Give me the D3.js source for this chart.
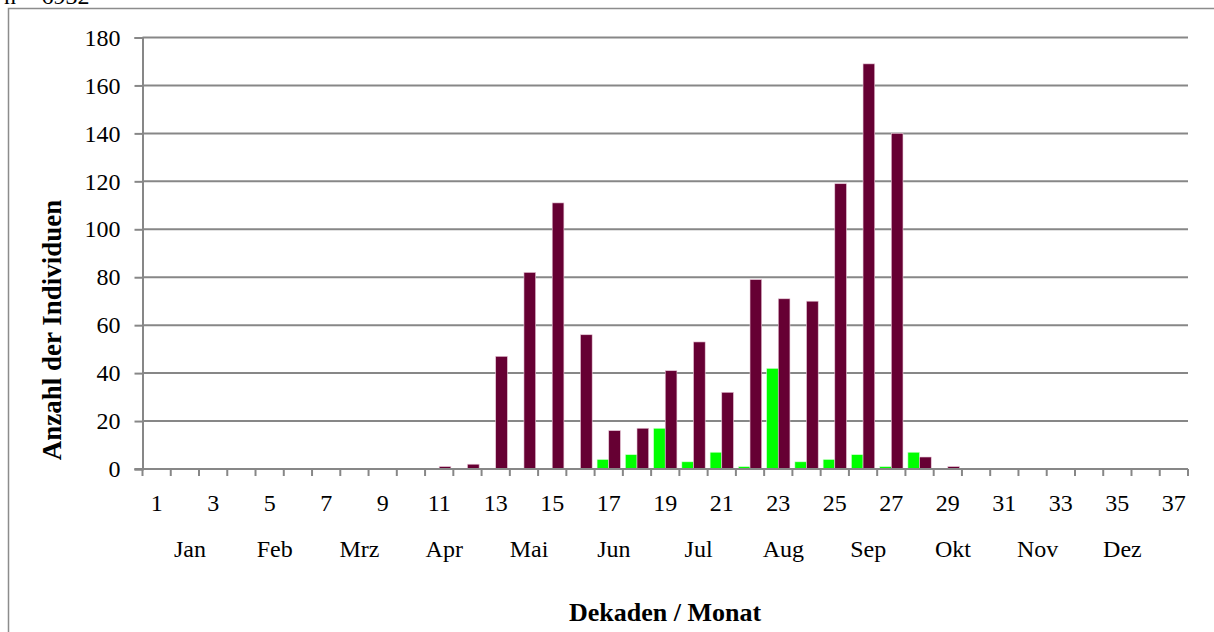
<!DOCTYPE html>
<html>
<head>
<meta charset="utf-8">
<script src="https://cdn.jsdelivr.net/npm/d3@7"></script>
<style>
  html, body { margin: 0; padding: 0; background: #fff; }
  svg { display: block; }
  text { font-family: "Liberation Serif", "Times New Roman", serif; fill: #000; }
</style>
</head>
<body>
<svg id="chart" width="1214" height="632"></svg>
<script>
// ---- Data ----
const decades = d3.range(1, 38);               // 1..37
const tickLabels = d3.range(1, 38, 2);          // 1,3,...,37
const months = ["Jan","Feb","Mrz","Apr","Mai","Jun","Jul","Aug","Sep","Okt","Nov","Dez"];
const seriesGreen = [0,0,0,0,0,0,0,0,0,0, 0,0,0,0,0,0,4,6,17,3, 7,1,42,3,4,6,1,7,0,0, 0,0,0,0,0,0,0];
const seriesMaroon = [0,0,0,0,0,0,0,0,0,0, 1,2,47,82,111,56,16,17,41,53, 32,79,71,70,119,169,140,5,1,0, 0,0,0,0,0,0,0];
const yTicks = [0,20,40,60,80,100,120,140,160,180];
const nLabel = "n = 6932";

// ---- Layout ----
const svg = d3.select("#chart");
const pLeft = 142.5, pRight = 1188, pTop = 37.5, pBottom = 469;
const gridColor = "#878787";

// outer border
svg.append("rect").attr("x", 8.5).attr("y", 8.5).attr("width", 1230).attr("height", 640)
  .attr("fill", "none").attr("stroke", "#8c8c8c").attr("stroke-width", 1.5);

svg.append("text").attr("x", 4).attr("y", 4).attr("font-size", 24).text(nLabel);

const x = d3.scaleBand().domain(decades).range([pLeft, pRight]).paddingInner(0).paddingOuter(0);
const inner = d3.scaleBand().domain(["g","m"]).range([0, x.bandwidth()]).paddingOuter(0.21).paddingInner(0);
const y = d3.scaleLinear().domain([0, 180]).range([pBottom, pTop]);

// gridlines
svg.append("g").selectAll("line").data(yTicks.slice(1)).join("line")
  .attr("x1", pLeft).attr("x2", pRight)
  .attr("y1", d => y(d)).attr("y2", d => y(d))
  .attr("stroke", gridColor).attr("stroke-width", 2);

// bars
const bars = svg.append("g");
decades.forEach((d, i) => {
  const gv = seriesGreen[i], mv = seriesMaroon[i];
  if (gv > 0) bars.append("rect").attr("x", x(d) + inner("g")).attr("width", inner.bandwidth())
    .attr("y", y(gv)).attr("height", y(0) - y(gv)).attr("fill", "#00ff00")
    .attr("stroke", "#d9ffd9").attr("stroke-width", 0.6);
  if (mv > 0) bars.append("rect").attr("x", x(d) + inner("m")).attr("width", inner.bandwidth())
    .attr("y", y(mv)).attr("height", y(0) - y(mv)).attr("fill", "#660033")
    .attr("stroke", "#e8c8d8").attr("stroke-width", 0.6);
});

// y axis
const yAxis = svg.append("g").attr("transform", `translate(${pLeft},0)`)
  .call(d3.axisLeft(y).tickValues(yTicks).tickSize(8).tickPadding(14));
yAxis.select(".domain").attr("stroke", gridColor).attr("stroke-width", 2);
yAxis.selectAll(".tick line").attr("stroke", gridColor).attr("stroke-width", 2);
yAxis.selectAll(".tick text").attr("font-size", 24).attr("font-family", "Liberation Serif");

// x axis baseline + tick marks at category boundaries
const boundaries = decades.map(d => x(d)).concat([x(37) + x.bandwidth()]);
svg.append("line").attr("x1", pLeft - 8).attr("x2", pRight).attr("y1", pBottom).attr("y2", pBottom)
  .attr("stroke", gridColor).attr("stroke-width", 2);
svg.append("g").selectAll("line").data(boundaries).join("line")
  .attr("x1", d => d).attr("x2", d => d).attr("y1", pBottom).attr("y2", pBottom + 7)
  .attr("stroke", gridColor).attr("stroke-width", 2);

// decade labels
svg.append("g").selectAll("text").data(tickLabels).join("text")
  .attr("x", d => x(d) + x.bandwidth() / 2).attr("y", 511)
  .attr("text-anchor", "middle").attr("font-size", 24).text(d => d);

// month labels (each month spans 3 decades)
const monthPos = d3.scaleLinear().domain([0, 37]).range([pLeft, pRight]);
svg.append("g").selectAll("text").data(months).join("text")
  .attr("x", (d, i) => monthPos(1.68 + 3 * i)).attr("y", 557)
  .attr("text-anchor", "middle").attr("font-size", 24).text(d => d);

// axis titles
svg.append("text").attr("x", 665).attr("y", 621).attr("text-anchor", "middle")
  .attr("font-size", 26).attr("font-weight", "bold").text("Dekaden / Monat");
svg.append("text").attr("transform", "translate(61,330) rotate(-90)").attr("text-anchor", "middle")
  .attr("font-size", 27).attr("font-weight", "bold").text("Anzahl der Individuen");
</script>
</body>
</html>
